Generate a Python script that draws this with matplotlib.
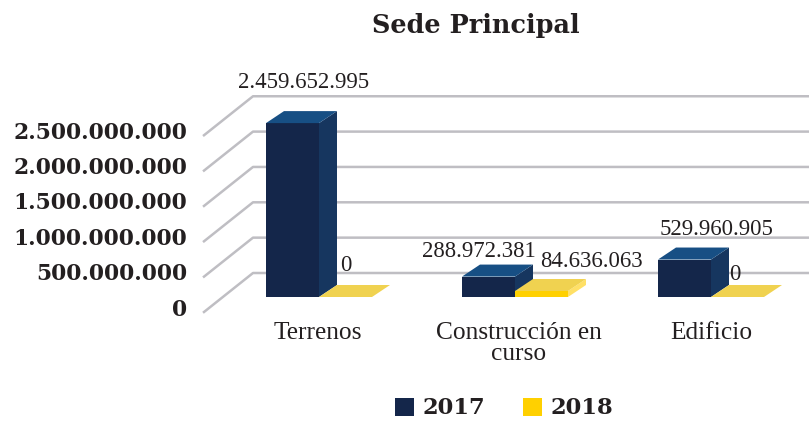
import matplotlib
matplotlib.use("Agg")
import matplotlib.pyplot as plt
from matplotlib.patches import Polygon, Patch

categorias = ["Terrenos", "Construcción en\ncurso", "Edificio"]
valores_2017 = [2459652995, 288972381, 529960905]
valores_2018 = [0, 84636063, 0]
etiquetas_2017 = ["2.459.652.995", "288.972.381", "529.960.905"]
etiquetas_2018 = ["0", "84.636.063", "0"]
ticks = [0, 500000000, 1000000000, 1500000000, 2000000000, 2500000000]
tick_labels = ["0", "500.000.000", "1.000.000.000", "1.500.000.000", "2.000.000.000", "2.500.000.000"]

#Colores
azul = ("#14264A", "#16365F", "#174F84")
amarillo = ("#FFD000", "#FFE066", "#F0D250")
gris = "#BFBEC3"
texto = "#231F20"

W, H = 809, 425
fig = plt.figure(figsize=(W/100, H/100), dpi=100)
ax = fig.add_axes([0, 0, 1, 1])
ax.axis("off")

#Escalas: pixeles por unidad
py = 70.7e-9
px = 196.0
x0 = 319.0   #pixel de la categoria 0
y0 = 297.0   #pixel del valor 0
ax.set_xlim(-x0/px, (W-x0)/px)
ax.set_ylim(-(H-y0)/py, y0/py)

ancho = 53/px
dx, dy = 18/px, 12/py

def barra(x, v, colores):
    frente, lado, arriba = colores
    ax.add_patch(Polygon([(x, 0), (x+ancho, 0), (x+ancho, v), (x, v)], fc=frente, ec="none", zorder=3))
    ax.add_patch(Polygon([(x+ancho, 0), (x+ancho+dx, dy), (x+ancho+dx, v+dy), (x+ancho, v)], fc=lado, ec="none", zorder=3))
    ax.add_patch(Polygon([(x, v), (x+ancho, v), (x+ancho+dx, v+dy), (x+dx, v+dy)], fc=arriba, ec="none", zorder=3))

#Lineas de la grilla, con el piso en perspectiva
frente_x, fondo_x = (204-x0)/px, (253-x0)/px
frente_y, fondo_y = -15/py, 24/py
for t in ticks:
    ax.plot([frente_x, fondo_x, (W-x0)/px], [t+frente_y, t+fondo_y, t+fondo_y],
            color=gris, lw=1.8, zorder=1, solid_joinstyle="round")
    i = ticks.index(t)
    ax.text((187-x0)/px, t-12.5/py, tick_labels[i], ha="right", va="center",
            family="DejaVu Serif", weight="bold", fontsize=15.7, color=texto)

#Ajuste horizontal de cada categoria, en pixeles
ajuste = [0, 5, 1]
for i in range(len(categorias)):
    barra(i-ancho, valores_2017[i], azul)
    barra(i, valores_2018[i], amarillo)
    ax.text(i-0.005+ajuste[i]/px, -25/py, categorias[i], ha="center", va="top", family="Liberation Serif",
            fontsize=18.3, color=texto, linespacing=0.95)

#Etiquetas de datos (desplazamiento en puntos)
off_2017 = [(8, 29), (-7, 18), (23, 21.8)]
off_2018 = [(0, 22.5), (36, 21.5), (-2, 16)]
for i in range(len(categorias)):
    ax.annotate(etiquetas_2017[i], (i-ancho/2, valores_2017[i]), xytext=off_2017[i], textcoords="offset points",
                ha="center", va="center", family="Liberation Serif", fontsize=16.4, color=texto, zorder=5)
    ax.annotate(etiquetas_2018[i], (i+ancho/2, valores_2018[i]), xytext=off_2018[i], textcoords="offset points",
                ha="center", va="center", family="Liberation Serif", fontsize=16.4, color=texto, zorder=5)

fig.text(476/W, 1-26/H, "Sede Principal", ha="center", va="center", family="DejaVu Serif",
         weight="bold", fontsize=18.4, color=texto)

h = [Patch(fc=azul[0], label="2017"), Patch(fc=amarillo[0], label="2018")]
leg = ax.legend(handles=h, loc="center", bbox_to_anchor=(504/W, 1-408.5/H), ncol=2, frameon=False,
                handlelength=0.84, handleheight=0.84, handletextpad=0.4, columnspacing=1.64,
                prop={"family": "DejaVu Serif", "weight": "bold", "size": 16.3})
for t in leg.get_texts():
    t.set_color(texto)

fig.savefig("out.png", dpi=100)
